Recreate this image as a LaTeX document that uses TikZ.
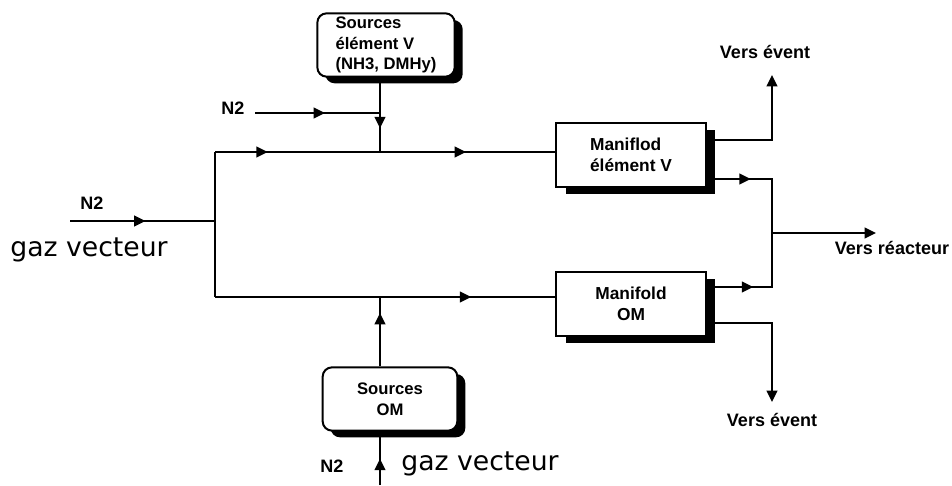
\documentclass[tikz,border=0pt]{standalone}
\usepackage{fontspec}
\setmainfont{Liberation Sans}
\newfontfamily\gazfont{DejaVu Sans}
\usetikzlibrary{arrows.meta, decorations.markings, shadows, positioning}

\begin{document}
\begin{tikzpicture}[
        x=0.75pt, y=-0.75pt,
        line width=1.5pt,
        >={Triangle[length=8.5pt, width=8pt]},
        source/.style={rectangle, draw, fill=white, rounded corners=7pt, align=left,
                       inner xsep=2pt, inner ysep=0pt,
                       minimum width=103pt, minimum height=47.5pt,
                       font=\bfseries\fontsize{12.5}{15.5}\selectfont,
                       drop shadow={shadow xshift=6pt, shadow yshift=-5pt, fill=black, opacity=1}},
        manifold/.style={rectangle, draw, fill=white, align=left,
                         minimum width=112pt, minimum height=48pt,
                         font=\bfseries\fontsize{13}{16}\selectfont,
                         drop shadow={shadow xshift=7pt, shadow yshift=-5.5pt, fill=black, opacity=1}},
        txt/.style={font=\bfseries\fontsize{13.5}{16}\selectfont},
        gaz/.style={font=\gazfont\fontsize{20}{24}\selectfont},
        midarrow/.style={postaction={decorate},
                         decoration={markings, mark=at position #1 with {\arrow{Triangle[length=8.5pt, width=8pt]}}}}
    ]
        \useasboundingbox (0,0) rectangle (952,485);

        % Boxes
        \node[source] (srcV) at (386,45) {Sources\\élément V\\(NH3, DMHy)};
        \node[manifold] (manV) at (631,155) {Maniflod\\élément V};
        \node[manifold, align=center] (manOM) at (631,304) {Manifold\\OM};
        \node[source, align=center, minimum width=101pt] (srcOM) at (390,399) {Sources\\OM};

        % Junctions and free ends
        \coordinate (n2L) at (70,221);
        \coordinate (split) at (215,221);
        \coordinate (splitT) at (215,152);
        \coordinate (splitB) at (215,297);
        \coordinate (jV) at (380,152);
        \coordinate (n2V) at (255,113);
        \coordinate (jOM) at (380,297);
        \coordinate (n2OM) at (380,485);
        \coordinate (merge) at (772,233);
        \coordinate (ventT) at (772,75);
        \coordinate (ventB) at (772,402);
        \coordinate (reactor) at (876,233);

        % Carrier gas inlet and split
        \draw[midarrow=0.52] (n2L) -- (split);
        \draw (splitT) -- (splitB);

        % Upper line: element V
        \draw[midarrow=0.32] (splitT) -- (jV);
        \draw[midarrow=0.49] (jV) -- (splitT -| manV.west);
        \draw[midarrow=0.56] (n2V) -- (n2V -| jV);
        \draw[midarrow=0.68] (srcV.south -| jV) -- (jV);

        % Lower line: OM
        \draw (splitB) -- (jOM);
        \draw[midarrow=0.52] (jOM) -- (splitB -| manOM.west);
        \draw[midarrow=0.77] (srcOM.north -| jOM) -- (jOM);
        \draw[midarrow=0.49] (n2OM) -- (srcOM.south -| n2OM);

        % Outlets
        \draw[->] ([yshift=11.25pt]manV.east) -| (ventT);
        \draw[midarrow=0.37] ([yshift=-18pt]manV.east) -| (merge);
        \draw[midarrow=0.39] ([yshift=12.75pt]manOM.east) -| (merge);
        \draw[->] ([yshift=-14.25pt]manOM.east) -| (ventB);
        \draw[->] (merge) -- (reactor);

        % Labels
        \node[txt] (ventTlbl) at (765,52) {Vers évent};
        \node[txt] (ventBlbl) at (772,420) {Vers évent};
        \node[txt] (reactlbl) at (892,248) {Vers réacteur};
        \node[txt] (n2Llbl) at (92,203) {N2};
        \node[txt] (n2Vlbl) at (233,108) {N2};
        \node[txt] (n2OMlbl) at (332,466) {N2};
        \node[gaz] (gazL) at (89,250) {gaz vecteur};
        \node[gaz] (gazB) at (480,464) {gaz vecteur};
    \end{tikzpicture}
\end{document}
